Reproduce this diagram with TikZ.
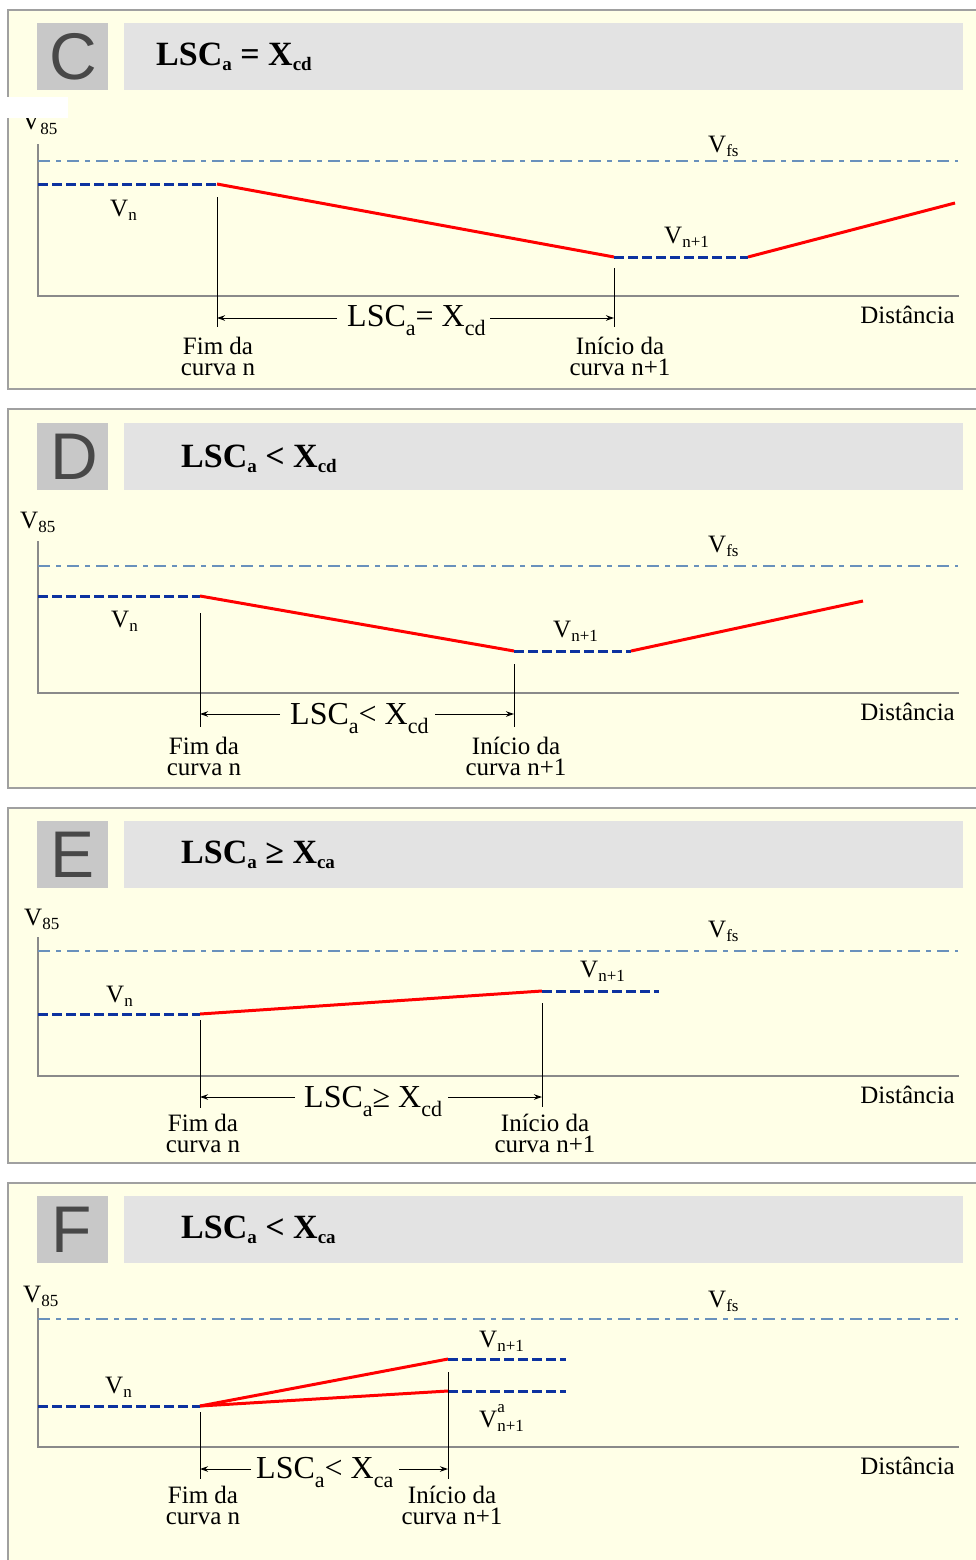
\documentclass[tikz,border=0pt]{standalone}
\usepackage{fontspec}
\setmainfont{Liberation Serif}
\newfontfamily\lettfont{Liberation Sans}
\usetikzlibrary{arrows.meta}
\definecolor{panelbg}{RGB}{255,255,231}
\definecolor{panelborder}{RGB}{160,160,160}
\definecolor{lettergray}{RGB}{200,200,200}
\definecolor{lettertext}{RGB}{72,72,72}
\definecolor{titlegray}{RGB}{227,227,227}
\definecolor{axisgray}{RGB}{138,138,138}
\definecolor{vfsblue}{RGB}{105,145,188}
\definecolor{vblue}{RGB}{12,50,160}
\definecolor{vred}{RGB}{255,0,0}
\newcommand{\lsub}[1]{\raisebox{-4.5pt}{\fontsize{17}{17}\selectfont #1}}
\newcommand{\lsup}[1]{\raisebox{15pt}{\fontsize{17}{17}\selectfont #1}}
\newcommand{\dsub}[1]{\raisebox{-9pt}{\fontsize{22}{22}\selectfont #1}}
\newcommand{\tsub}[1]{\raisebox{-5pt}{\fontsize{19}{19}\selectfont\bfseries #1}}
\begin{document}
\begin{tikzpicture}[x=1pt,y=-1pt,
  panel/.style={draw=panelborder, line width=1.5pt, fill=panelbg},
  letterbox/.style={fill=lettergray},
  titlebox/.style={fill=titlegray},
  lettnode/.style={inner sep=0pt, text=lettertext, font=\lettfont\fontsize{66}{66}\selectfont},
  titlenode/.style={inner sep=0pt, anchor=base west, font=\fontsize{34}{34}\selectfont\bfseries},
  axisline/.style={draw=axisgray, line width=2pt},
  vfsline/.style={draw=vfsblue, line width=1.7pt, dash pattern=on 12pt off 6pt on 5pt off 6pt},
  vline/.style={draw=vblue, line width=3pt, dash pattern=on 10pt off 4pt},
  redline/.style={draw=vred, line width=3pt},
  tickline/.style={draw=black, line width=1pt},
  dimarrow/.style={draw=black, line width=1pt, -{Stealth[length=8pt,width=5.5pt]}},
  lbl/.style={inner sep=0pt, anchor=base west, font=\fontsize{25}{21}\selectfont},
  lblc/.style={inner sep=0pt, anchor=base, align=center, font=\fontsize{25}{21}\selectfont},
  lble/.style={inner sep=0pt, anchor=base east, font=\fontsize{25}{21}\selectfont},
  dimlbl/.style={inner sep=0pt, anchor=base west, font=\fontsize{32}{32}\selectfont}
]
\useasboundingbox (0,0) rectangle (976,1560);
\clip (0,0) rectangle (976,1560);
\fill[white] (0,0) rectangle (976,1560);

% ================= Panel C =================
\draw[panel] (8,10) rectangle (1000,389);
\fill[letterbox] (37,23) rectangle (108,90);
\fill[titlebox] (124,23) rectangle (963,90);
\node[lettnode] (Cletter) at (73,57) {C};
\node[titlenode] (Ctitle) at (156,66) {LSC\tsub{a} = X\tsub{cd}};
\coordinate (Cy) at (38,144); \coordinate (Co) at (38,296); \coordinate (Cx) at (959,296);
\draw[axisline] (Cy) -- (Co) -- (Cx);
\coordinate (Cf1) at (38,161); \coordinate (Cf2) at (958,161);
\draw[vfsline] (Cf1) -- (Cf2);
\coordinate (Cv0) at (38,184); \coordinate (Cv1) at (217,184); \coordinate (Cv2) at (614,257);
\coordinate (Cv3) at (748,257); \coordinate (Cv4) at (955,203);
\draw[vline] (Cv0) -- (Cv1);
\draw[redline] (Cv1) -- (Cv2);
\draw[vline] (Cv2) -- (Cv3);
\draw[redline] (Cv3) -- (Cv4);
\coordinate (Ct1a) at (217,197); \coordinate (Ct1b) at (217,327);
\coordinate (Ct2a) at (614,268); \coordinate (Ct2b) at (614,327);
\draw[tickline] (Ct1a) -- (Ct1b);
\draw[tickline] (Ct2a) -- (Ct2b);
\coordinate (Ca1) at (337,318); \coordinate (Ce1) at (217,318);
\coordinate (Ca2) at (490,318); \coordinate (Ce2) at (614,318);
\draw[dimarrow] (Ca1) -- (Ce1);
\draw[dimarrow] (Ca2) -- (Ce2);
\node[dimlbl] (Cdim) at (347,326) {LSC\dsub{a}= X\dsub{cd}};
\node[lbl] (C85) at (22,130) {V\lsub{85}};
\node[lbl] (Cfs) at (708,152) {V\lsub{fs}};
\node[lbl] (Cvn) at (110,216) {V\lsub{n}};
\node[lbl] (Cvn1) at (664,243) {V\lsub{n+1}};
\node[lble] (Cdist) at (955,323) {Distância};
\node[lblc] (Cfim) at (218,375) {Fim da\\curva n};
\node[lblc] (Cini) at (620,375) {Início da\\curva n+1};
\fill[white] (0,97) rectangle (68,118);

% ================= Panel D =================
\draw[panel] (8,409) rectangle (1000,788);
\fill[letterbox] (37,423) rectangle (108,490);
\fill[titlebox] (124,423) rectangle (963,490);
\node[lettnode] (Dletter) at (74,457) {D};
\node[titlenode] (Dtitle) at (181,467) {LSC\tsub{a} < X\tsub{cd}};
\coordinate (Dy) at (38,541); \coordinate (Do) at (38,693); \coordinate (Dx) at (959,693);
\draw[axisline] (Dy) -- (Do) -- (Dx);
\coordinate (Df1) at (38,566); \coordinate (Df2) at (958,566);
\draw[vfsline] (Df1) -- (Df2);
\coordinate (Dv0) at (38,596); \coordinate (Dv1) at (200,596); \coordinate (Dv2) at (514,651);
\coordinate (Dv3) at (631,651); \coordinate (Dv4) at (863,601);
\draw[vline] (Dv0) -- (Dv1);
\draw[redline] (Dv1) -- (Dv2);
\draw[vline] (Dv2) -- (Dv3);
\draw[redline] (Dv3) -- (Dv4);
\coordinate (Dt1a) at (200,613); \coordinate (Dt1b) at (200,727);
\coordinate (Dt2a) at (514,664); \coordinate (Dt2b) at (514,727);
\draw[tickline] (Dt1a) -- (Dt1b);
\draw[tickline] (Dt2a) -- (Dt2b);
\coordinate (Da1) at (280,714); \coordinate (De1) at (200,714);
\coordinate (Da2) at (435,714); \coordinate (De2) at (514,714);
\draw[dimarrow] (Da1) -- (De1);
\draw[dimarrow] (Da2) -- (De2);
\node[dimlbl] (Ddim) at (290,724) {LSC\dsub{a}< X\dsub{cd}};
\node[lbl] (D85) at (20,528) {V\lsub{85}};
\node[lbl] (Dfs) at (708,552) {V\lsub{fs}};
\node[lbl] (Dvn) at (111,627) {V\lsub{n}};
\node[lbl] (Dvn1) at (553,637) {V\lsub{n+1}};
\node[lble] (Ddist) at (955,720) {Distância};
\node[lblc] (Dfim) at (204,775) {Fim da\\curva n};
\node[lblc] (Dini) at (516,775) {Início da\\curva n+1};

% ================= Panel E =================
\draw[panel] (8,808) rectangle (1000,1163);
\fill[letterbox] (37,821) rectangle (108,888);
\fill[titlebox] (124,821) rectangle (963,888);
\node[lettnode] (Eletter) at (73,855) {E};
\node[titlenode] (Etitle) at (181,863) {LSC\tsub{a} ≥ X\tsub{ca}};
\coordinate (Ey) at (38,937); \coordinate (Eo) at (38,1076); \coordinate (Ex) at (959,1076);
\draw[axisline] (Ey) -- (Eo) -- (Ex);
\coordinate (Ef1) at (38,951); \coordinate (Ef2) at (958,951);
\draw[vfsline] (Ef1) -- (Ef2);
\coordinate (Ev0) at (38,1014); \coordinate (Ev1) at (200,1014); \coordinate (Ev2) at (542,991);
\coordinate (Ev3) at (659,991);
\draw[vline] (Ev0) -- (Ev1);
\draw[redline] (Ev1) -- (Ev2);
\draw[vline] (Ev2) -- (Ev3);
\coordinate (Et1a) at (200,1020); \coordinate (Et1b) at (200,1108);
\coordinate (Et2a) at (542,1003); \coordinate (Et2b) at (542,1107);
\draw[tickline] (Et1a) -- (Et1b);
\draw[tickline] (Et2a) -- (Et2b);
\coordinate (Ea1) at (295,1097); \coordinate (Ee1) at (200,1097);
\coordinate (Ea2) at (448,1097); \coordinate (Ee2) at (542,1097);
\draw[dimarrow] (Ea1) -- (Ee1);
\draw[dimarrow] (Ea2) -- (Ee2);
\node[dimlbl] (Edim) at (304,1107) {LSC\dsub{a}≥ X\dsub{cd}};
\node[lbl] (E85) at (24,925) {V\lsub{85}};
\node[lbl] (Efs) at (708,937) {V\lsub{fs}};
\node[lbl] (Evn) at (106,1002) {V\lsub{n}};
\node[lbl] (Evn1) at (580,977) {V\lsub{n+1}};
\node[lble] (Edist) at (955,1103) {Distância};
\node[lblc] (Efim) at (203,1152) {Fim da\\curva n};
\node[lblc] (Eini) at (545,1152) {Início da\\curva n+1};

% ================= Panel F =================
\draw[panel] (8,1183) rectangle (1000,1600);
\fill[letterbox] (37,1196) rectangle (108,1263);
\fill[titlebox] (124,1196) rectangle (963,1263);
\node[lettnode] (Fletter) at (72,1230) {F};
\node[titlenode] (Ftitle) at (181,1238) {LSC\tsub{a} < X\tsub{ca}};
\coordinate (Fy) at (38,1308); \coordinate (Fo) at (38,1447); \coordinate (Fx) at (959,1447);
\draw[axisline] (Fy) -- (Fo) -- (Fx);
\coordinate (Ff1) at (38,1319); \coordinate (Ff2) at (958,1319);
\draw[vfsline] (Ff1) -- (Ff2);
\coordinate (Fv0) at (38,1406); \coordinate (Fv1) at (200,1406);
\coordinate (Fu1) at (448,1359); \coordinate (Fu2) at (566,1359);
\coordinate (Fl1) at (448,1391); \coordinate (Fl2) at (566,1391);
\draw[vline] (Fv0) -- (Fv1);
\draw[redline] (Fv1) -- (Fu1);
\draw[redline] (Fv1) -- (Fl1);
\draw[vline] (Fu1) -- (Fu2);
\draw[vline] (Fl1) -- (Fl2);
\coordinate (Ft1a) at (200,1412); \coordinate (Ft1b) at (200,1479);
\coordinate (Ft2a) at (448,1372); \coordinate (Ft2b) at (448,1479);
\draw[tickline] (Ft1a) -- (Ft1b);
\draw[tickline] (Ft2a) -- (Ft2b);
\coordinate (Fa1) at (251,1469); \coordinate (Fe1) at (200,1469);
\coordinate (Fa2) at (399,1469); \coordinate (Fe2) at (448,1469);
\draw[dimarrow] (Fa1) -- (Fe1);
\draw[dimarrow] (Fa2) -- (Fe2);
\node[dimlbl] (Fdim) at (256,1478) {LSC\dsub{a}< X\dsub{ca}};
\node[lbl] (F85) at (23,1302) {V\lsub{85}};
\node[lbl] (Ffs) at (708,1307) {V\lsub{fs}};
\node[lbl] (Fvn) at (105,1393) {V\lsub{n}};
\node[lbl] (Fvn1) at (479,1347) {V\lsub{n+1}};
\node[lbl] (Fvna) at (479,1427) {V\rlap{\lsup{a}}\lsub{n+1}};
\node[lble] (Fdist) at (955,1474) {Distância};
\node[lblc] (Ffim) at (203,1524) {Fim da\\curva n};
\node[lblc] (Fini) at (452,1524) {Início da\\curva n+1};
\end{tikzpicture}
\end{document}
